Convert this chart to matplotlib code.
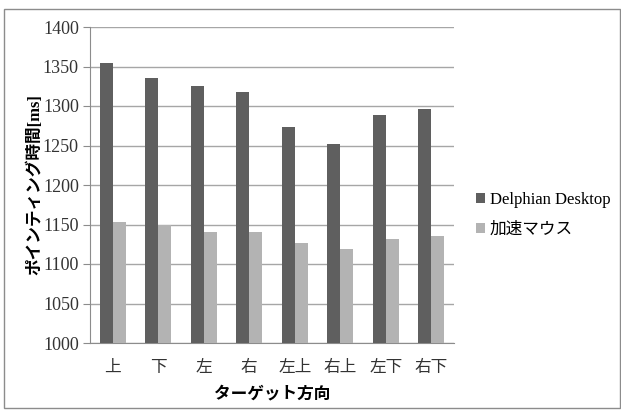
import numpy as np
import matplotlib.pyplot as plt
from matplotlib.patches import Rectangle

plt.rcParams['font.family'] = ['Liberation Serif', 'Noto Sans CJK JP', 'DejaVu Sans']

directions = ['上', '下', '左', '右', '左上', '右上', '左下', '右下']
delphian = [1354, 1335, 1325, 1318, 1273, 1252, 1289, 1296]
accel_mouse = [1153, 1149, 1141, 1140, 1127, 1119, 1132, 1136]
yticks = [1000, 1050, 1100, 1150, 1200, 1250, 1300, 1350, 1400]

fig = plt.figure(figsize=(6.21, 4.2), dpi=100)
ax = fig.add_axes([90 / 621, 1 - 343 / 420, 364 / 621, 316 / 420])

# outer chart frame
fig.patches.append(Rectangle((4 / 621, 1 - 408 / 420), 616 / 621, 399 / 420,
                             transform=fig.transFigure, fill=False,
                             edgecolor='#8c8c8c', linewidth=1.0))

x = np.arange(len(directions))
w = 0.29
ax.bar(x - w / 2, delphian, w, color='#5f5f5f', label='Delphian Desktop', zorder=3)
ax.bar(x + w / 2, accel_mouse, w, color='#b3b3b3', label='加速マウス', zorder=3)

ax.set_xlim(-0.5, len(directions) - 0.5)
ax.set_ylim(1000, 1400)
ax.set_yticks(yticks)
ax.set_xticks(x)
ax.set_xticklabels(directions, fontsize=12, color='#333333')
ax.tick_params(axis='y', labelsize=13, length=5, color='#8c8c8c', labelcolor='#333333', pad=3)
ax.tick_params(axis='x', length=0, pad=12)
ax.yaxis.grid(True, color='#a6a6a6', linewidth=1.0, zorder=0)

for s in ['top', 'right']:
    ax.spines[s].set_visible(False)
for s in ['left', 'bottom']:
    ax.spines[s].set_color('#8c8c8c')

ax.set_ylabel('ポインティング時間[ms]', fontsize=12, fontweight='bold', labelpad=0)
ax.set_xlabel('ターゲット方向', fontsize=12, fontweight='bold', labelpad=8)

ax.legend(loc='center left', bbox_to_anchor=(1.02, 0.405), frameon=False,
          prop={'family': ['Liberation Serif', 'Noto Sans CJK JP'], 'size': 12},
          handlelength=0.55, handleheight=0.55, handletextpad=0.25,
          labelspacing=0.8)

fig.savefig('out.png', dpi=100)
